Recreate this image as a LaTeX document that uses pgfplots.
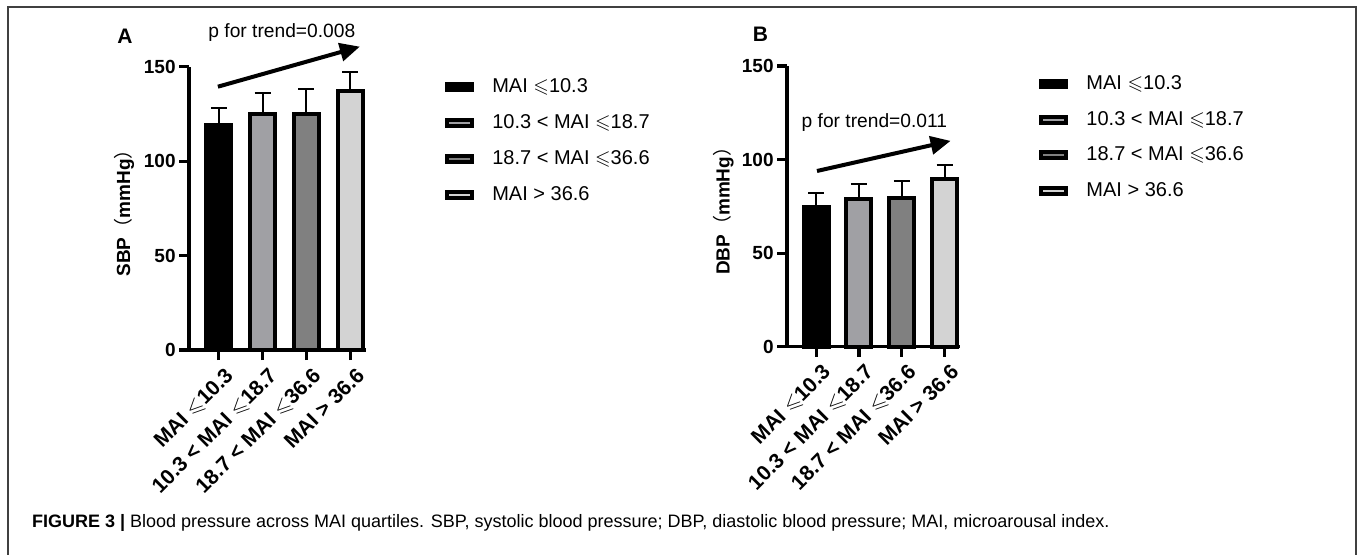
\documentclass[border=0pt]{standalone}
\usepackage{pgfplots}
\pgfplotsset{compat=1.18}
\usepackage{amssymb}
\usepackage{fontspec}
\setmainfont{Liberation Sans}
\newfontfamily\cjk{Noto Sans CJK SC}
\usetikzlibrary{arrows.meta}

\definecolor{q1}{HTML}{000000}
\definecolor{q2}{HTML}{A0A0A4}
\definecolor{q3}{HTML}{808080}
\definecolor{q4}{HTML}{D3D3D3}

\pgfplotsset{
  panel/.style={
    scale only axis,
    ybar, bar width=12.5pt,
    xmin=-0.68, xmax=3.36, ymin=0, ymax=150,
    axis lines*=left,
    axis line style={line width=1.6pt, black},
    tick style={line width=1.6pt, black},
    tick align=outside, major tick length=5pt,
    ytick={0,50,100,150}, xtick={0,1,2,3},
    xticklabels={MAI $\leqslant$10.3, 10.3 < MAI $\leqslant$18.7, 18.7 < MAI $\leqslant$36.6, MAI > 36.6},
    yticklabel style={inner sep=1.5pt, font=\bfseries\fontsize{9.5}{11}\selectfont},
    xticklabel style={xshift=2.5pt, yshift=-1.5pt, rotate=45, anchor=north east, inner sep=1pt,
      font=\bfseries\fontsize{10.5}{12}\selectfont},
    /pgf/number format/assume math mode=true,
    ylabel style={at={(axis description cs:-0.367,0.5)}, anchor=center, rotate=0,
      font=\bfseries\fontsize{9.5}{11}\selectfont},
    clip=false,
    legend cell align=left,
    legend style={draw=none, fill=none, anchor=north west, inner sep=0pt,
      row sep=7.4pt, font=\fontsize{10}{12}\selectfont,
      nodes={inner sep=1pt}},
    legend image code/.code={\draw[#1, line width=2pt, draw=black] (0pt,-1.5pt) rectangle (12.5pt,1.5pt);
      \path[draw=none, fill=none] (0pt,-0.1pt) rectangle (21.5pt,0.1pt);},
    err/.style={draw=black, line width=2pt, bar shift=0pt,
      error bars/.cd, y dir=plus, y explicit,
      error bar style={line width=1pt, black},
      error mark options={rotate=90, mark size=4pt, line width=1pt, black}},
  }
}

\begin{document}
\begin{tikzpicture}
\useasboundingbox (0pt,0pt) rectangle (678.5pt,277pt);
\draw[black!75, line width=0.6pt] (4pt,-5pt) -- (4pt,273.5pt) -- (678pt,273.5pt) -- (678pt,-5pt);

% panel A
\begin{axis}[panel, at={(94.5pt,102pt)}, anchor=south west,
  width=88.5pt, height=141.67pt,
  ylabel={SBP{\cjk\mdseries （}mmHg{\cjk\mdseries ）}},
  legend style={at={(axis description cs:1.446,0.965)}}]
\addplot[fill=q1, err] coordinates {(0,119) +- (0,9)};
\addplot[fill=q2, err] coordinates {(1,125) +- (0,11)};
\addplot[fill=q3, err] coordinates {(2,125) +- (0,13)};
\addplot[fill=q4, err] coordinates {(3,137) +- (0,10)};
\legend{MAI $\leqslant$10.3, 10.3 < MAI $\leqslant$18.7, 18.7 < MAI $\leqslant$36.6, MAI > 36.6}
\draw[line width=2pt, -{Triangle[length=10pt,width=9pt]}] (axis cs:-0.02,139.4) -- (axis cs:3.22,160.6);
\node[font=\fontsize{9.6}{11}\selectfont] at (axis cs:1.44,168) {p for trend=0.008};
\node[font=\bfseries\fontsize{10.5}{12}\selectfont] at (axis cs:-2.14,166) {A};
\end{axis}

% panel B
\begin{axis}[panel, at={(393.5pt,103.65pt)}, anchor=south west,
  width=86.5pt, height=140.35pt,
  ylabel={DBP{\cjk\mdseries （}mmHg{\cjk\mdseries ）}},
  legend style={at={(axis description cs:1.457,0.975)}}]
\addplot[fill=q1, err] coordinates {(0,74.8) +- (0,7.2)};
\addplot[fill=q2, err] coordinates {(1,79.1) +- (0,7.9)};
\addplot[fill=q3, err] coordinates {(2,79.6) +- (0,9.1)};
\addplot[fill=q4, err] coordinates {(3,89.5) +- (0,7.5)};
\legend{MAI $\leqslant$10.3, 10.3 < MAI $\leqslant$18.7, 18.7 < MAI $\leqslant$36.6, MAI > 36.6}
\draw[line width=2pt, -{Triangle[length=10pt,width=9pt]}] (axis cs:0.02,93.9) -- (axis cs:3.14,110);
\node[font=\fontsize{9.6}{11}\selectfont] at (axis cs:1.36,119.7) {p for trend=0.011};
\node[font=\bfseries\fontsize{10.5}{12}\selectfont] at (axis cs:-1.3,167) {B};
\end{axis}

\node[anchor=base west, font=\fontsize{9}{10}\selectfont] at (12.5pt,13.5pt)
  {\textbf{FIGURE 3 |} Blood pressure across MAI quartiles. SBP, systolic blood pressure; DBP, diastolic blood pressure; MAI, microarousal index.};
\end{tikzpicture}
\end{document}
